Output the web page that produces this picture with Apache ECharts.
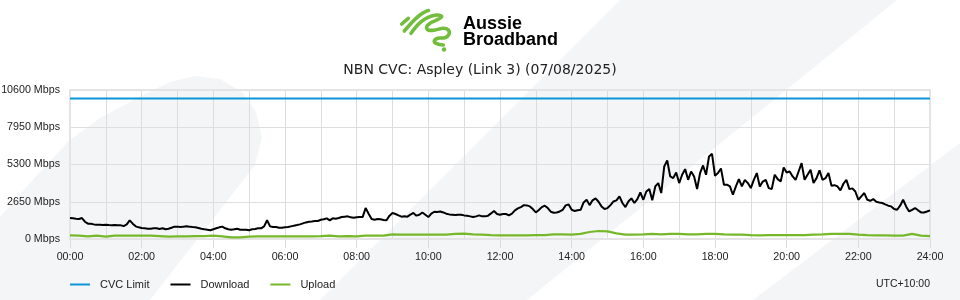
<!DOCTYPE html>
<html>
<head>
<meta charset="utf-8">
<script src="https://cdn.jsdelivr.net/npm/echarts@6/dist/echarts.min.js"></script>
<style>html,body{margin:0;padding:0;background:#fff;}#c{width:960px;height:300px;}</style>
</head>
<body>
<div id="c"></div>
<script>
// ---- data (Mbps) ----
const titleText = 'NBN CVC: Aspley (Link 3) (07/08/2025)';
const seriesNames = ['CVC Limit', 'Download', 'Upload'];
const yTicks = [0, 2650, 5300, 7950, 10600];
const xTickLabels = ['00:00','02:00','04:00','06:00','08:00','10:00','12:00','14:00','16:00','18:00','20:00','22:00','24:00'];
const cvcLimit = [10000, 10000];            // at 00:00 and 24:00
const downloadStepMin = 5;
const download = [
1490,1470,1440,1420,1490,1230,1090,1090,1040,1020,1020,990,1020,990,970,990,970,970,920,1040,
1330,1090,900,830,780,760,730,730,760,760,710,760,690,730,800,880,880,850,880,900,
880,850,830,780,730,690,660,620,690,760,830,880,760,690,660,690,730,660,660,660,
620,690,710,760,760,900,1330,900,850,850,800,800,830,850,900,950,990,1040,1110,1180,
1230,1250,1280,1280,1370,1400,1470,1330,1470,1440,1490,1560,1590,1610,1540,1510,1540,1560,1560,2200,
1800,1420,1370,1420,1400,1350,1330,1660,1850,1780,1680,1590,1610,1590,1730,1850,1660,1730,1890,1730,
1560,1800,1940,1920,1960,1890,1800,1750,1730,1700,1730,1730,1680,1660,1610,1560,1610,1680,1610,1610,
1660,1820,1990,1780,1730,1780,1780,1680,1800,2040,2180,2270,2410,2390,2320,2130,1890,2060,2270,2370,
2200,1940,1870,1890,1960,2080,2390,2460,2080,1990,2040,2080,2600,2790,2410,2750,2890,2650,2320,2130,
2200,2410,2670,2750,3030,2560,2270,2670,2890,2560,2840,3310,2790,3380,3550,2750,3740,3980,3270,5160,
5590,4450,4330,4730,3980,4570,4970,4210,4800,4450,3550,4690,5230,4570,5870,6060,4500,4690,5020,3860,
3860,3740,3150,3740,4260,3740,4210,3980,3620,4210,4690,3740,4090,4210,3620,3550,4570,4260,4090,5090,
4730,4800,4450,4210,4800,5400,4210,4570,4920,3980,4330,4880,4210,4330,4690,3790,3830,3740,3460,3930,
4210,3550,3600,3380,2790,3030,3270,2790,2720,2840,2650,2600,2560,2460,2370,2320,2130,2080,2370,2790,
2320,1960,2080,2200,2040,1890,1890,1960,2040
];
const uploadStepMin = 15;
const upload = [
260,240,190,240,170,240,240,240,240,240,210,170,190,190,210,210,240,190,120,120,
170,190,190,190,190,190,190,190,210,240,190,210,190,240,240,240,330,310,310,310,
310,310,310,360,380,330,310,280,260,260,260,260,280,280,330,330,310,360,500,570,
540,400,310,310,330,360,330,360,360,330,330,360,360,330,310,310,280,260,280,280,
280,280,280,310,330,360,360,360,310,280,260,260,240,240,360,240,210
];

// ---- build ----
const font = 'Liberation Sans';
const dlData = download.map((v, i) => [i * downloadStepMin, v]);
const ulData = upload.map((v, i) => [i * uploadStepMin, v]);
const cvcData = cvcLimit.map((v, i) => [i * 1440, v]);

const bg = '#f4f5f7';
const green = '#72be3c';
const axisFont = 10.7;

const chart = echarts.init(document.getElementById('c'), null, {renderer: 'canvas'});
chart.setOption({
  animation: false,
  backgroundColor: '#ffffff',
  textStyle: {fontFamily: font},
  grid: {left: 70, right: 30, top: 90, height: 149, containLabel: false, outerBoundsMode: 'none',
         show: true, borderColor: '#e4e4e4', borderWidth: 2, z: 1},
  legend: {
    left: 65, top: 274, itemWidth: 20, itemHeight: 2, itemGap: 21, icon: 'rect',
    textStyle: {fontFamily: font, fontSize: 11, color: '#222', padding: [0, 0, 0, 5]},
    data: seriesNames
  },
  xAxis: {
    type: 'value', min: 0, max: 1440, interval: 120,
    axisLine: {show: true, lineStyle: {color: '#e4e4e4', width: 2}},
    axisTick: {show: true, length: 9, lineStyle: {color: '#dcdcdc'}},
    axisLabel: {margin: 13, fontSize: axisFont, color: '#222', fontFamily: font,
      formatter: v => xTickLabels[Math.round(v / 120)] || ''},
    splitLine: {show: true, lineStyle: {color: '#dcdcdc', width: 1}},
    minorTick: {show: false, splitNumber: 2},
    minorSplitLine: {show: true, lineStyle: {color: '#dcdcdc', width: 1}}
  },
  yAxis: {
    type: 'value', min: yTicks[0], max: yTicks[yTicks.length - 1], interval: yTicks[1] - yTicks[0],
    axisLine: {show: true, lineStyle: {color: '#e4e4e4', width: 2}},
    axisTick: {show: false},
    axisLabel: {margin: 10, fontSize: axisFont, color: '#222', fontFamily: font, formatter: v => v + ' Mbps'},
    splitLine: {show: true, lineStyle: {color: '#dedede', width: 1}}
  },
  series: [
    {name: seriesNames[0], type: 'line', data: cvcData, showSymbol: false, color: '#0a96d6', lineStyle: {width: 2, color: '#0a96d6'}, z: 3},
    {name: seriesNames[1], type: 'line', data: dlData, showSymbol: false, color: '#000000', lineStyle: {width: 2, color: '#000000'}, z: 4},
    {name: seriesNames[2], type: 'line', data: ulData, showSymbol: false, color: '#76b82a', lineStyle: {width: 2.2, color: '#76b82a'}, z: 5}
  ],
  graphic: [
    // background decorative shapes
    {type: 'polygon', silent: true, z: -10, shape: {points: [[0,217],[40,172],[70,140],[100,118],[143,95],[170,82],[195,76],[220,79],[242,92],[256,112],[262,138],[255,165],[150,300],[0,300]]}, style: {fill: bg}},
    {type: 'polygon', silent: true, z: -10, shape: {points: [[620,0],[897,0],[527,300],[320,300]]}, style: {fill: bg}},
    {type: 'polygon', silent: true, z: -10, shape: {points: [[960,143],[960,300],[753,300]]}, style: {fill: bg}},
    // logo
    {type: 'polyline', silent: true, z: 10, shape: {points: [[401.7,24],[408.3,18.3]]}, style: {stroke: green, lineWidth: 3.6, lineCap: 'round', fill: null}},
    {type: 'polyline', silent: true, z: 10, shape: {points: [[404.3,31],[413.3,21],[420,15],[426.7,11],[428.5,10.5]], smooth: 0.4}, style: {stroke: green, lineWidth: 3.6, lineCap: 'round', fill: null}},
    {type: 'polyline', silent: true, z: 10, shape: {points: [[411,33.3],[418.3,24.3],[425,19],[431.7,16],[437.7,15],[441.7,16.7],[436.7,20],[430,23.3],[426.7,26.7],[428.3,30],[435,30],[443.3,28.3],[448.3,30],[449,34.3],[445,37.7],[437.7,38.3],[434.3,41],[436.7,43.7],[443.3,45]], smooth: 0.4}, style: {stroke: green, lineWidth: 3.6, lineCap: 'round', lineJoin: 'round', fill: null}},
    {type: 'circle', silent: true, z: 10, shape: {cx: 444, cy: 49.5, r: 2.2}, style: {fill: green}},
    {type: 'text', silent: true, z: 10, x: 463, y: 24.5, style: {text: 'Aussie', font: 'bold 18px "Liberation Sans"', fill: '#000', verticalAlign: 'middle', align: 'left'}},
    {type: 'text', silent: true, z: 10, x: 463, y: 40.5, style: {text: 'Broadband', font: 'bold 18px "Liberation Sans"', fill: '#000', verticalAlign: 'middle', align: 'left'}},
    // title
    {type: 'text', silent: true, z: 10, x: 480, y: 70.5, style: {text: titleText, font: '14px "DejaVu Sans"', fill: '#222', align: 'center', verticalAlign: 'middle'}},
    // timezone
    {type: 'text', silent: true, z: 10, x: 930, y: 284, style: {text: 'UTC+10:00', font: '10.5px "Liberation Sans"', fill: '#222', align: 'right', verticalAlign: 'middle'}}
  ]
});
</script>
</body>
</html>
